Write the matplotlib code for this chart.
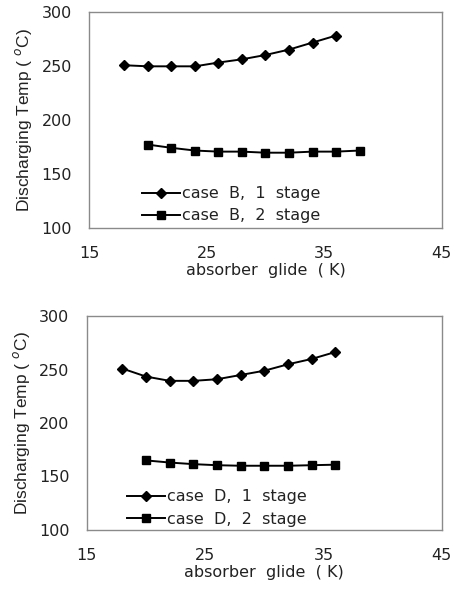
import matplotlib
matplotlib.use("Agg")
import matplotlib.pyplot as plt

# absorber glide (K)
glide_1stage = [18, 20, 22, 24, 26, 28, 30, 32, 34, 36]
glide_B2 = [20, 22, 24, 26, 28, 30, 32, 34, 36, 38]
glide_D2 = [20, 22, 24, 26, 28, 30, 32, 34, 36]

# discharging temperatures (C)
caseB_1 = [250.5, 249.5, 249.5, 249.5, 253, 256, 260, 265, 271.5, 278]
caseB_2 = [177, 174, 171.5, 170.5, 170.5, 169.5, 169.5, 170.5, 170.5, 171.5]
caseD_1 = [251, 243.5, 239.5, 239.5, 241, 245, 249, 255, 260, 266.5]
caseD_2 = [165, 163, 161.5, 160.5, 160, 160, 160, 160.5, 161]

xticks = [15, 25, 35, 45]
yticks = [100, 150, 200, 250, 300]

plt.rcParams['font.family'] = ['DejaVu Sans']

fig = plt.figure(figsize=(4.55, 5.9), dpi=100)
ax1 = fig.add_axes([0.196, 0.614, 0.775, 0.366])
ax2 = fig.add_axes([0.191, 0.102, 0.780, 0.362])


def style(ax, leg_xy):
    ax.set_xlim(15, 45)
    ax.set_ylim(100, 300)
    ax.set_xticks(xticks)
    ax.set_yticks(yticks)
    ax.tick_params(length=0, labelsize=11.5, labelcolor='#222222')
    ax.tick_params(axis='x', pad=13)
    ax.tick_params(axis='y', pad=12.5)
    for s in ax.spines.values():
        s.set_color('#8a8a8a')
        s.set_linewidth(1.0)
    ax.set_xlabel('absorber  glide  ( K)', fontsize=11.5, labelpad=1.5,
                  color='#222222')
    ax.set_ylabel('Discharging Temp ( $^{o}$C)', fontsize=12.5, labelpad=5,
                  family='Liberation Sans', color='#222222')
    leg = ax.legend(loc='lower left', bbox_to_anchor=leg_xy, frameon=False,
                    fontsize=11.5, handlelength=2.4, handletextpad=0.1,
                    labelspacing=0.45, borderpad=0, borderaxespad=0)
    for t in leg.get_texts():
        t.set_color('#222222')


ax1.plot(glide_1stage, caseB_1, color='black', lw=1.4, marker='D', ms=5,
         label='case  B,  1  stage')
ax1.plot(glide_B2, caseB_2, color='black', lw=1.4, marker='s', ms=6,
         label='case  B,  2  stage')
style(ax1, (0.15, 0.02))

ax2.plot(glide_1stage, caseD_1, color='black', lw=1.4, marker='D', ms=5,
         label='case  D,  1  stage')
ax2.plot(glide_D2, caseD_2, color='black', lw=1.4, marker='s', ms=6,
         label='case  D,  2  stage')
style(ax2, (0.112, 0.015))

fig.savefig('out.png', dpi=100)
